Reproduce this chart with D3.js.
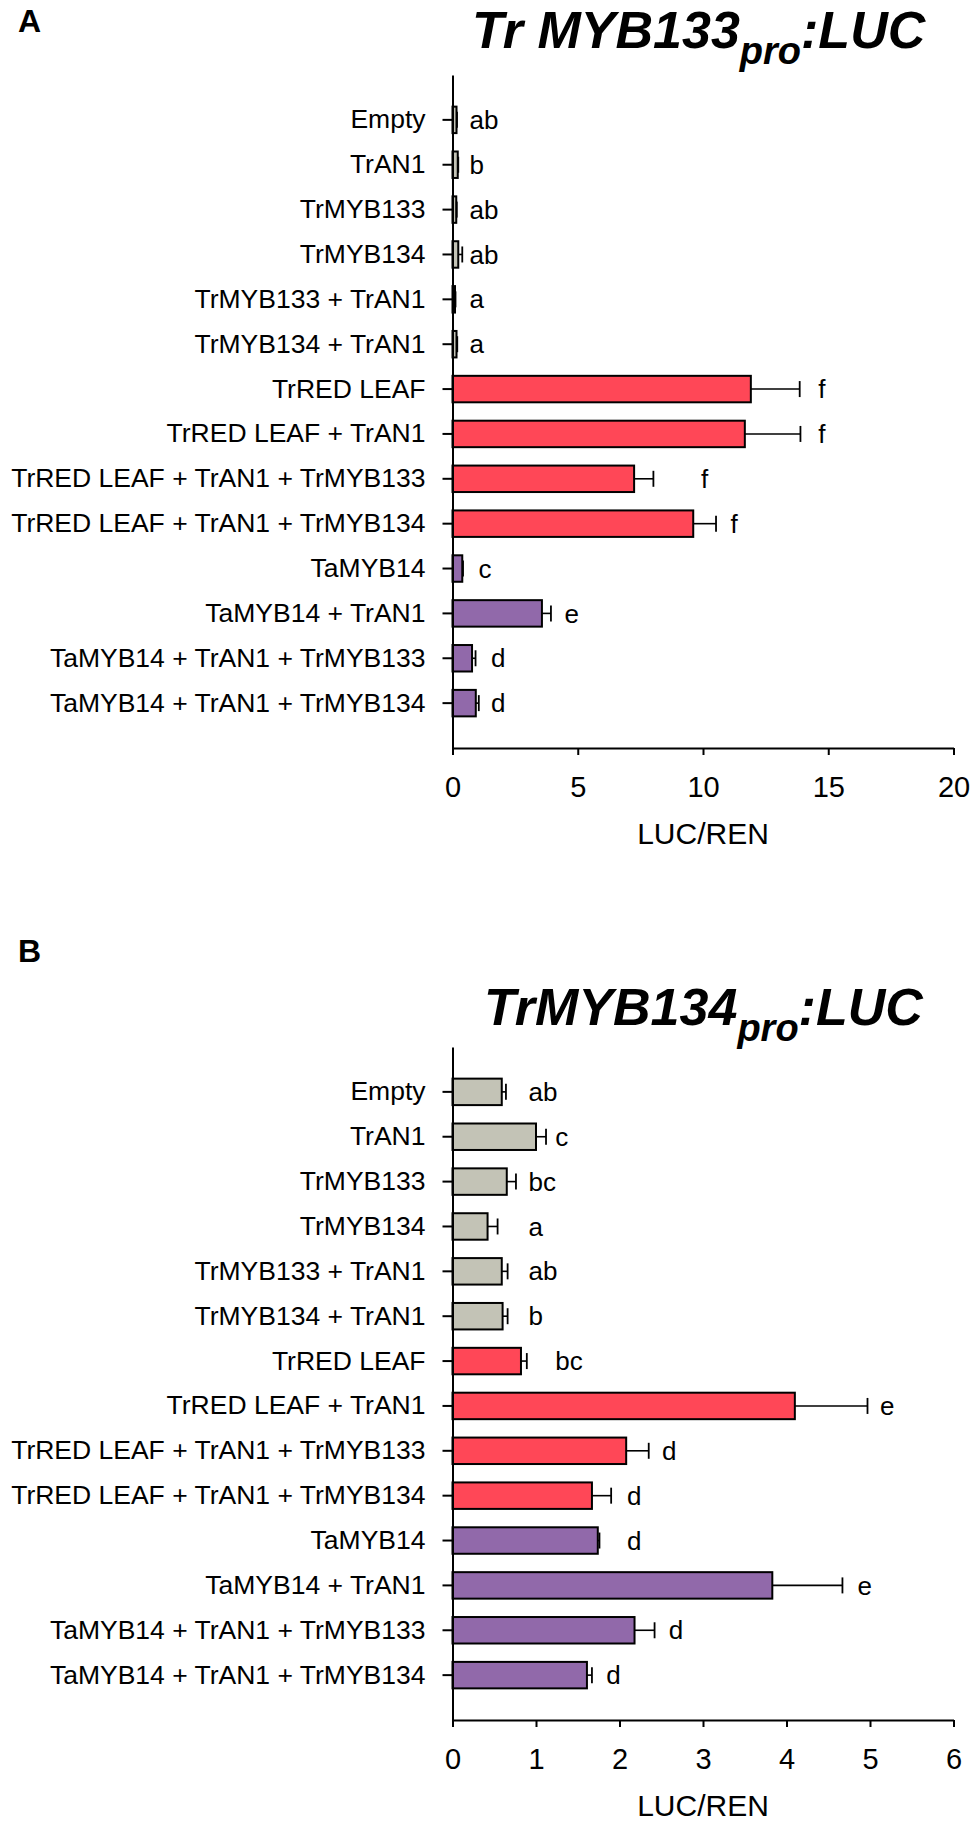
<!DOCTYPE html>
<html>
<head>
<meta charset="utf-8">
<script src="https://cdn.jsdelivr.net/npm/d3@7"></script>
<style>
  body { margin: 0; background: #fff; }
  text { font-family: "Liberation Sans", Arial, sans-serif; fill: #000; }
</style>
</head>
<body>
<div id="chart"></div>
<script>
// constructs, shared by both panels
const constructs = [
  "Empty", "TrAN1", "TrMYB133", "TrMYB134",
  "TrMYB133 + TrAN1", "TrMYB134 + TrAN1",
  "TrRED LEAF", "TrRED LEAF + TrAN1",
  "TrRED LEAF + TrAN1 + TrMYB133", "TrRED LEAF + TrAN1 + TrMYB134",
  "TaMYB14", "TaMYB14 + TrAN1",
  "TaMYB14 + TrAN1 + TrMYB133", "TaMYB14 + TrAN1 + TrMYB134"
]
const groups = ["ctrl", "ctrl", "ctrl", "ctrl", "ctrl", "ctrl",
                "red", "red", "red", "red",
                "ta", "ta", "ta", "ta"]

// panel A: TrMYB133 promoter
const meanA = [0.16, 0.21, 0.15, 0.23, 0.10, 0.16, 11.91, 11.67, 7.25, 9.61, 0.39, 3.57, 0.78, 0.93]
const errA = [0.02, 0.02, 0.02, 0.16, 0.02, 0.03, 1.95, 2.22, 0.77, 0.91, 0.03, 0.36, 0.14, 0.12]
const lettersA = ["ab", "b", "ab", "ab", "a", "a", "f", "f", "f", "f", "c", "e", "d", "d"]
const letterAtA = [0.68, 0.68, 0.68, 0.68, 0.68, 0.68, 14.6, 14.6, 9.92, 11.1, 1.04, 4.47, 1.54, 1.54]
const ticksA = [0, 5, 10, 15, 20]

// panel B: TrMYB134 promoter
const meanB = [0.59, 1.00, 0.65, 0.42, 0.59, 0.60, 0.82, 4.10, 2.08, 1.67, 1.74, 3.83, 2.18, 1.61]
const errB = [0.05, 0.12, 0.11, 0.12, 0.07, 0.06, 0.07, 0.87, 0.27, 0.23, 0.02, 0.84, 0.24, 0.06]
const lettersB = ["ab", "c", "bc", "a", "ab", "b", "bc", "e", "d", "d", "d", "e", "d", "d"]
const letterAtB = [0.91, 1.23, 0.91, 0.91, 0.91, 0.91, 1.23, 5.12, 2.51, 2.09, 2.09, 4.85, 2.59, 1.84]
const ticksB = [0, 1, 2, 3, 4, 5, 6]

const xLabel = "LUC/REN"

const width = 975
const height = 1824

const color = d3.scaleOrdinal()
  .domain(["ctrl", "red", "ta"])
  .range(["#c3c3b6", "#ff4757", "#9169aa"])

const svg = d3.select("#chart")
  .append("svg")
  .attr("width", width)
  .attr("height", height)

svg.append("rect")
  .attr("width", width)
  .attr("height", height)
  .attr("fill", "#fff")

function drawPanel(opts) {
  const left = 452.5
  const right = 953.5
  const top = opts.top
  const bottom = opts.top + 673

  const data = constructs.map((c, i) => ({
    name: c, group: groups[i], mean: opts.mean[i], err: opts.err[i],
    letter: opts.letters[i], at: opts.letterAt[i]
  }))

  const x = d3.scaleLinear()
    .domain([0, d3.max(opts.ticks)])
    .range([left, right])
  const y = d3.scaleBand()
    .domain(constructs)
    .range([top, bottom])
    .paddingInner(0.41)
    .paddingOuter(0.705)

  const g = svg.append("g")

  // bars
  g.selectAll("rect.bar")
    .data(data)
    .enter()
    .append("rect")
    .attr("class", "bar")
    .attr("x", x(0))
    .attr("y", d => y(d.name))
    .attr("width", d => x(d.mean) - x(0))
    .attr("height", y.bandwidth())
    .attr("fill", d => color(d.group))
    .attr("stroke", "#000")
    .attr("stroke-width", 2)

  // error bars (upper side only)
  const cy = d => y(d.name) + y.bandwidth() / 2
  g.selectAll("line.err")
    .data(data)
    .enter()
    .append("line")
    .attr("x1", d => x(d.mean))
    .attr("x2", d => x(d.mean + d.err))
    .attr("y1", cy)
    .attr("y2", cy)
    .attr("stroke", "#000")
    .attr("stroke-width", 1.6)
  g.selectAll("line.cap")
    .data(data)
    .enter()
    .append("line")
    .attr("x1", d => x(d.mean + d.err))
    .attr("x2", d => x(d.mean + d.err))
    .attr("y1", d => cy(d) - 8)
    .attr("y2", d => cy(d) + 8)
    .attr("stroke", "#000")
    .attr("stroke-width", 1.8)

  // significance letters
  g.selectAll("text.sig")
    .data(data)
    .enter()
    .append("text")
    .attr("x", d => x(d.at))
    .attr("y", cy)
    .attr("dy", "0.35em")
    .style("font-size", "26px")
    .text(d => d.letter)

  // axes
  const yAxis = d3.axisLeft(y).tickSize(10).tickSizeOuter(0).tickPadding(17)
  const gy = g.append("g")
    .attr("transform", `translate(${left},0)`)
    .call(yAxis)
  gy.selectAll("text").style("font-size", "26.5px").attr("fill", "#000")

  const xAxis = d3.axisBottom(x)
    .tickValues(opts.ticks)
    .tickFormat(d3.format("d"))
    .tickSize(7)
    .tickSizeOuter(0)
    .tickPadding(21)
  const gx = g.append("g")
    .attr("transform", `translate(0,${bottom})`)
    .call(xAxis)
  gx.selectAll("text").style("font-size", "29px").attr("fill", "#000")

  g.selectAll(".domain, .tick line").attr("stroke", "#000").attr("stroke-width", 2)

  g.append("text")
    .attr("x", (left + right) / 2)
    .attr("y", bottom + 96)
    .attr("text-anchor", "middle")
    .style("font-size", "30px")
    .text(xLabel)

  // title
  const t = g.append("text")
    .attr("x", opts.titleX)
    .attr("y", opts.titleY)
    .style("font-size", "52px")
    .style("font-weight", "bold")
    .style("font-style", "italic")
  t.append("tspan").text(opts.gene)
  t.append("tspan").attr("dy", 16).style("font-size", "38px").text("pro")
  t.append("tspan").attr("dy", -16).text(":LUC")

  // panel letter
  g.append("text")
    .attr("x", 18)
    .attr("y", opts.letterY)
    .style("font-size", "32px")
    .style("font-weight", "bold")
    .text(opts.panel)
}

drawPanel({
  panel: "A", gene: "Tr MYB133", top: 75, titleX: 472, titleY: 48, letterY: 32,
  mean: meanA, err: errA, letters: lettersA, letterAt: letterAtA, ticks: ticksA
})
drawPanel({
  panel: "B", gene: "TrMYB134", top: 1047, titleX: 484, titleY: 1025, letterY: 962,
  mean: meanB, err: errB, letters: lettersB, letterAt: letterAtB, ticks: ticksB
})
</script>
</body>
</html>
